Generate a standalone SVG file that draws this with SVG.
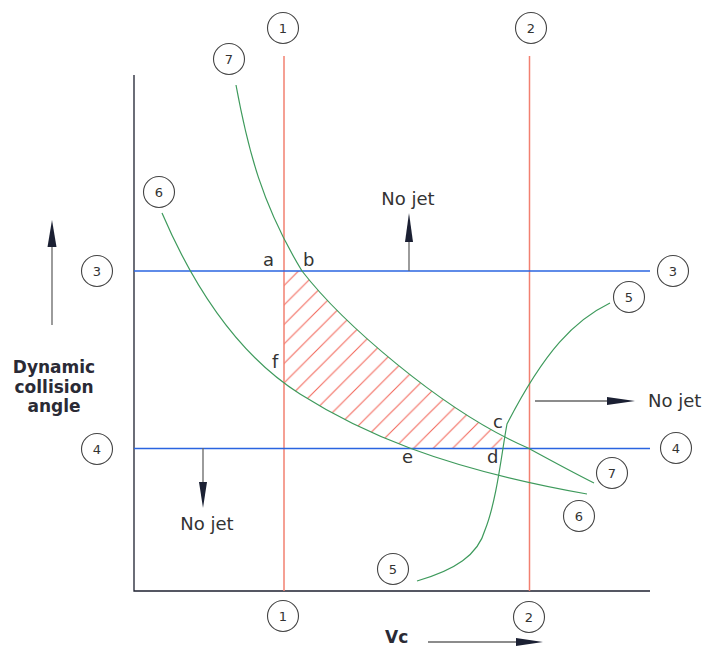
<svg xmlns="http://www.w3.org/2000/svg" width="706" height="649" viewBox="0 0 706 649">
<style>
.ax{stroke:#1e2130;stroke-width:1.3;fill:none}
.red{stroke:#f28070;stroke-width:1.5;fill:none}
.blue{stroke:#2a64e0;stroke-width:1.5;fill:none}
.grn{stroke:#3e9a5c;stroke-width:1.2;fill:none}
.circ{fill:#fff;stroke:#444;stroke-width:1.1}
.num{font-family:"DejaVu Sans",sans-serif;font-size:13px;fill:#333;text-anchor:middle;dominant-baseline:central}
.lbl{font-family:"DejaVu Sans",sans-serif;font-size:18px;fill:#333}
.bold{font-family:"DejaVu Sans",sans-serif;font-size:17px;font-weight:bold;fill:#2a2a35}
.shaft{stroke:#666;stroke-width:1.3}
.head{fill:#1b2033}
</style>
<defs>
<pattern id="hatch" patternUnits="userSpaceOnUse" x="4" y="0" width="19.5" height="19.5">
<path d="M-5,5 L5,-5 M0,19.5 L19.5,0 M14.5,24.5 L24.5,14.5" stroke="#f26a5e" stroke-width="1.1"/>
</pattern>
</defs>

<g id="hatched-region">
<polygon fill="url(#hatch)" points="284,271 302,271 315.2,286.9 331.7,304.6 350.9,323.7 372.6,343.5 396.3,363.6 421.3,383.4 447.6,402.3 474.3,419.7 487.9,427.7 501.3,435.1 504,442 503,448.5 410.9,448.5 384.6,438.1 360.7,427.4 338.7,416.5 318.7,405.3 300,394 292,389 284,383"/>
</g>

<g id="axes">
<path class="ax" d="M134,75 V591 H650"/>
</g>

<g id="line-1">
<line class="red" x1="284" y1="56" x2="284" y2="591"/>
<circle class="circ" cx="283" cy="28" r="15.5"/><text class="num" x="283" y="28">1</text>
<circle class="circ" cx="283" cy="616" r="15.5"/><text class="num" x="283" y="616">1</text>
</g>
<g id="line-2">
<line class="red" x1="529.5" y1="56" x2="529.5" y2="591"/>
<circle class="circ" cx="531" cy="28" r="15.5"/><text class="num" x="531" y="28">2</text>
<circle class="circ" cx="529" cy="617" r="15.5"/><text class="num" x="529" y="617">2</text>
</g>
<g id="line-3">
<line class="blue" x1="134" y1="271" x2="650" y2="271"/>
<circle class="circ" cx="97" cy="271" r="15.5"/><text class="num" x="97" y="271">3</text>
<circle class="circ" cx="673" cy="271" r="15.5"/><text class="num" x="673" y="271">3</text>
</g>
<g id="line-4">
<line class="blue" x1="134" y1="448.5" x2="650" y2="448.5"/>
<circle class="circ" cx="97" cy="449" r="15.5"/><text class="num" x="97" y="449">4</text>
<circle class="circ" cx="676" cy="448" r="15.5"/><text class="num" x="676" y="448">4</text>
</g>

<g id="curve-7">
<path class="grn" d="M236,85 C248,150 262,205 302,271 C340,320 440,410 528,448 C550,460 572,472 594,483"/>
<circle class="circ" cx="229" cy="59" r="15.5"/><text class="num" x="229" y="59">7</text>
<circle class="circ" cx="612" cy="473" r="15.5"/><text class="num" x="612" y="473">7</text>
</g>
<g id="curve-6">
<path class="grn" d="M162,213 C195,290 240,356 300,394 C360,432 440,468 587,494"/>
<circle class="circ" cx="159" cy="192" r="15.5"/><text class="num" x="159" y="192">6</text>
<circle class="circ" cx="579" cy="516" r="15.5"/><text class="num" x="579" y="516">6</text>
</g>
<g id="curve-5">
<path class="grn" d="M610,303 C575,320 545,350 507,424 C502,450 497,500 485,530 C478,555 455,570 417,581"/>
<circle class="circ" cx="629" cy="297" r="15.5"/><text class="num" x="629" y="297">5</text>
<circle class="circ" cx="393" cy="569" r="15.5"/><text class="num" x="393" y="569">5</text>
</g>

<g id="point-labels">
<text class="lbl" x="263" y="266">a</text>
<text class="lbl" x="303" y="266">b</text>
<text class="lbl" x="493" y="428">c</text>
<text class="lbl" x="487" y="463">d</text>
<text class="lbl" x="402" y="463">e</text>
<text class="lbl" x="272" y="368">f</text>
</g>

<g id="connectors">
<line class="shaft" x1="409" y1="271" x2="409" y2="240"/>
<polygon class="head" points="409,213 413,242 405,242"/>
<line class="shaft" x1="535" y1="401" x2="610" y2="401"/>
<polygon class="head" points="635,401 607,397 607,405"/>
<line class="shaft" x1="203" y1="448" x2="203" y2="485"/>
<polygon class="head" points="203,508 199,482 207,482"/>
<line class="shaft" x1="52" y1="325" x2="52" y2="245"/>
<polygon class="head" points="52,220 56.5,247 47.5,247"/>
<line class="shaft" x1="428" y1="642" x2="520" y2="642"/>
<polygon class="head" points="543,642 516,638 516,646"/>
</g>

<g id="texts">
<text class="lbl" x="408" y="205" text-anchor="middle">No jet</text>
<text class="lbl" x="648" y="407">No jet</text>
<text class="lbl" x="207" y="530" text-anchor="middle">No jet</text>
<text class="bold" x="54" y="373" text-anchor="middle">Dynamic</text>
<text class="bold" x="54" y="393" text-anchor="middle">collision</text>
<text class="bold" x="54" y="412" text-anchor="middle">angle</text>
<text class="bold" x="385" y="643">Vc</text>
</g>
</svg>
